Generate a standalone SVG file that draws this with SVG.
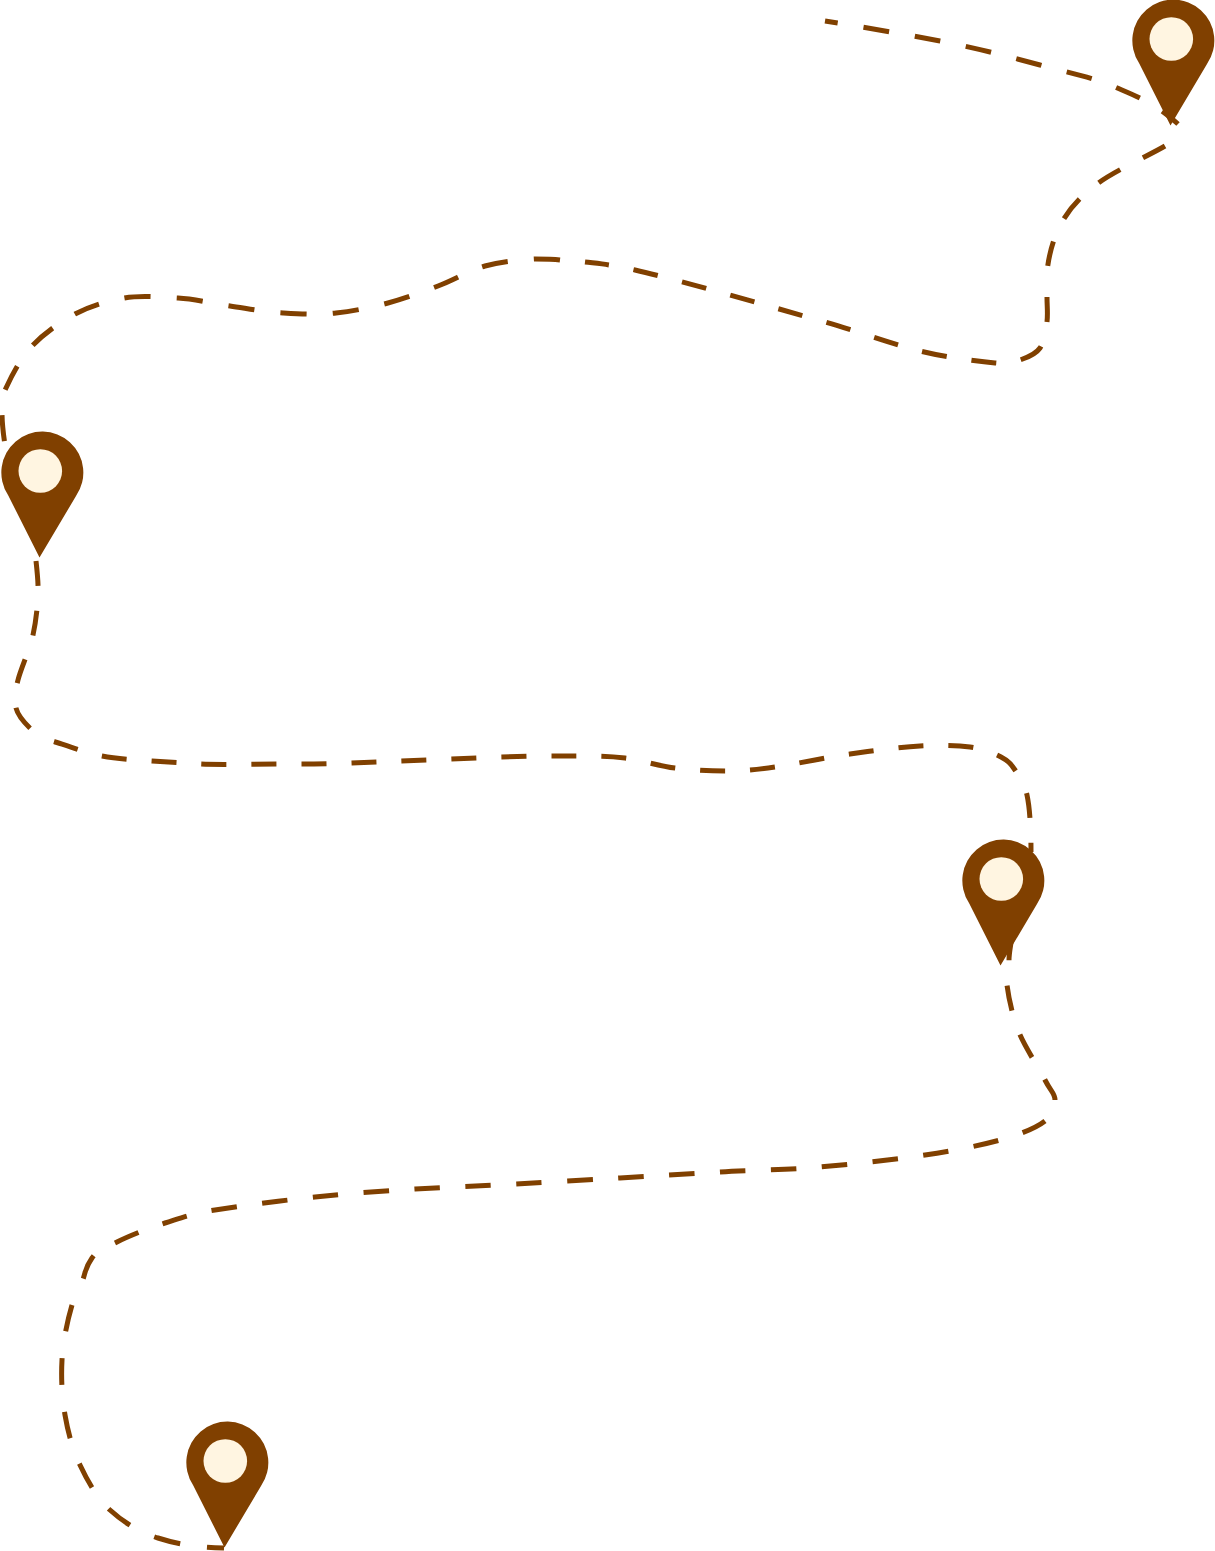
<svg xmlns="http://www.w3.org/2000/svg" xmlns:xlink="http://www.w3.org/1999/xlink" width="1215" height="1551" viewBox="0 0 1215 1551">
<style>
.route{fill:none;stroke:#804000;stroke-width:5}
.pin-body{fill:#804000}
.pin-hole{fill:#fff5e1}
</style>
<defs>
<g id="pin">
<path class="pin-body" d="M-34,22A41,41 0 1 1 34,23L-2.500,84.500Z"/>
<circle class="pin-hole" cx="-1.7" cy="-2" r="21.8"/>
</g>
</defs>
<rect width="1215" height="1551" fill="#ffffff"/>
<g id="connectors">
<path class="route" stroke-dasharray="26 26" stroke-dashoffset="13" d="M825,21C850,25 904,34 940,41S1011,57 1040,65S1092,77 1115,87S1155,103 1178,124"/>
<path class="route" stroke-dasharray="25.22 25.22" d="M1165,146C1148,156 1114,171 1097,184S1070,208 1062,222S1049,253 1047,272"/>
<path class="route" stroke-dasharray="25 25" d="M1047,297C1047,306 1048,314 1047,322S1044,342 1040,348S1027.5,357.5 1020,360S1006,364 995,363S948,358 920,351S857,331 825,322S762,304 730,295S659,275.5 635,270S602,264 585,262"/>
<path class="route" stroke-dasharray="26.2 26.2" d="M560,260C552,259 544,259 535,259C518,260 501,261.5 485,266S454,280 438,286S405,298.500 388,303S353.500,311 336,313S301,314 283,313S247.500,308.500 230,306S196,299 178,298S141,295 124,298S90,306 75,314S43.500,334 32,346S11,377 6,388S2,402 2,412S3,432 5,445"/>
<path class="route" stroke-dasharray="25 25" d="M36,561C37,570 38.500,583 38,595S36,621 33,635S21,668 18,680S14,700 16,708S25.500,724 32,730"/>
<path class="route" stroke-dasharray="25 25" d="M54,741.500C62,744 86,753 102,756S136,760 152,761S184,763 200,764S260,764 300,764S370,762 400,761S470,758 500,757S555,756 576,756S608.500,756 625,758S658,766 675,768S708,771 725,771S754,770 775,767S826,757.500 850,754S900,747 920,746S956.500,745 970,747S993.500,753 1001,757S1011,764 1015,770S1024,781 1027,795S1031,830 1031,852"/>
<path class="route" stroke-dasharray="25.5 25.5" d="M1012,935C1011,945 1009,952 1009,960S1005.500,973 1007,985S1012,1014 1018,1030S1039,1068 1045,1080S1055,1093 1055,1100"/>
<path class="route" stroke-dasharray="25.5 25.5" d="M1045,1121C1036,1128 1020,1134.500 1000,1140S955,1150.500 925,1155S854,1164 820,1167S753,1170 720,1172S654,1176 620,1178S549,1182 515,1184S448,1187 415,1189S348,1193.500 315,1197S240,1206 215,1210S181,1218 165,1223S129,1236 117,1242S99.500,1247.500 92,1258S86,1272 82,1282"/>
<path class="route" stroke-dasharray="27 27" d="M72,1305C67,1322 63,1342 62,1360S62,1397.500 65,1415S72.500,1449 80,1465S97,1498 110,1510S139,1532 158,1538S192,1547 224,1548"/>
</g>
<g id="pin-1"><use xlink:href="#pin" href="#pin" x="1173" y="41"/></g>
<g id="pin-2"><use xlink:href="#pin" href="#pin" x="42" y="473"/></g>
<g id="pin-3"><use xlink:href="#pin" href="#pin" x="1003" y="881"/></g>
<g id="pin-4"><use xlink:href="#pin" href="#pin" x="227" y="1463"/></g>
</svg>
